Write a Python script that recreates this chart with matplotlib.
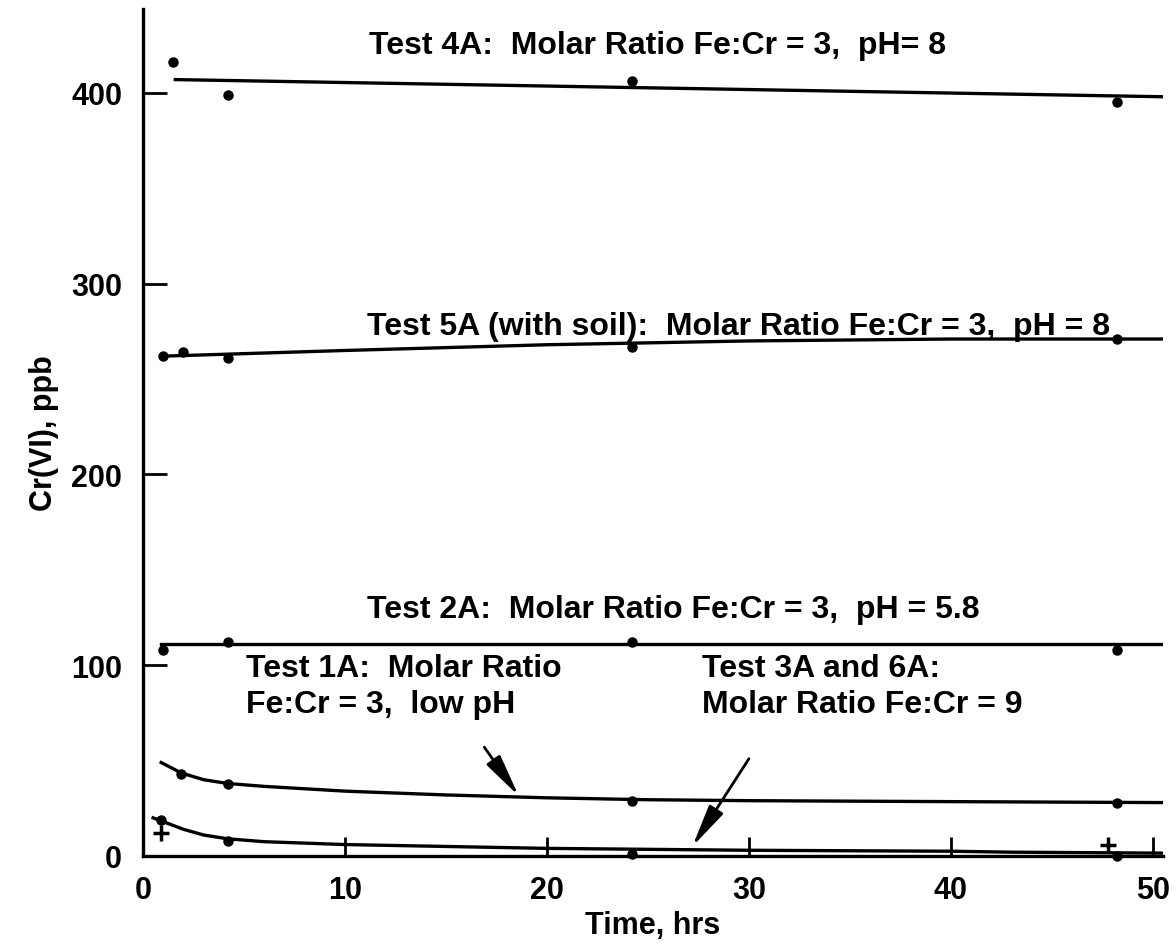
import matplotlib.pyplot as plt

plt.rcParams['font.family'] = ['Liberation Sans', 'DejaVu Sans']
plt.rcParams['font.weight'] = 'bold'
plt.rcParams['axes.labelweight'] = 'bold'

# measured points
test4a_x = [1.5, 4.2, 24.2, 48.2]
test4a_y = [416, 399, 406, 395]
test5a_x = [1.0, 2.0, 4.2, 24.2, 48.2]
test5a_y = [262, 264, 261, 267, 271]
test2a_x = [1.0, 4.2, 24.2, 48.2]
test2a_y = [108, 112, 112, 108]
test1a_x = [1.9, 4.2, 24.2, 48.2]
test1a_y = [43, 38, 29, 28]
test3a_x = [0.9, 4.2, 24.2, 48.2]
test3a_y = [19, 8, 1, 0]
test6a_x = [0.9, 47.8]
test6a_y = [12, 6]

# fitted curves
fit4a_x = [1.6, 50.5]
fit4a_y = [407, 398]
fit5a_x = [0.9, 4.0, 10, 20, 30, 40, 50.5]
fit5a_y = [262, 263, 265, 268, 270, 271, 271]
fit2a_x = [0.9, 50.5]
fit2a_y = [111, 111]
fit1a_x = [0.9, 1.9, 3.0, 4.2, 6, 10, 15, 20, 25, 30, 40, 50.5]
fit1a_y = [49, 43.5, 40, 38, 36.5, 34, 32, 30.5, 29.5, 29, 28.5, 28]
fit3a_x = [0.5, 1.0, 2.0, 3.0, 4.2, 6, 10, 15, 20, 25, 30, 40, 43, 50.5]
fit3a_y = [20, 18, 14, 11, 9, 7.5, 6, 5, 4, 3.5, 3, 2.5, 2, 1.5]

fig = plt.figure(figsize=(11.76, 9.53), dpi=100)
ax = fig.add_axes([143/1176, 96/953, (1163-143)/1176, (857-10)/953])

lw = 2.4
ax.plot(fit4a_x, fit4a_y, color='black', lw=lw)
ax.plot(fit5a_x, fit5a_y, color='black', lw=lw)
ax.plot(fit2a_x, fit2a_y, color='black', lw=lw)
ax.plot(fit1a_x, fit1a_y, color='black', lw=lw)
ax.plot(fit3a_x, fit3a_y, color='black', lw=lw)

for xs, ys in [(test4a_x, test4a_y), (test5a_x, test5a_y), (test2a_x, test2a_y),
               (test1a_x, test1a_y), (test3a_x, test3a_y)]:
    ax.plot(xs, ys, 'o', color='black', markersize=6.5, clip_on=False)
ax.plot(test6a_x, test6a_y, '+', color='black', markersize=12, mew=2.5, clip_on=False)

fs = 23
ax.text(11.2, 425, 'Test 4A:  Molar Ratio Fe:Cr = 3,  pH= 8', fontsize=fs, va='center')
ax.text(11.1, 278, 'Test 5A (with soil):  Molar Ratio Fe:Cr = 3,  pH = 8', fontsize=fs, va='center')
ax.text(11.1, 129.5, 'Test 2A:  Molar Ratio Fe:Cr = 3,  pH = 5.8', fontsize=fs, va='center')
ax.text(5.1, 89, 'Test 1A:  Molar Ratio\nFe:Cr = 3,  low pH', fontsize=fs, va='center',
        linespacing=1.25)
ax.text(27.7, 89, 'Test 3A and 6A:\nMolar Ratio Fe:Cr = 9', fontsize=fs, va='center',
        linespacing=1.25)

arrow = dict(arrowstyle='-|>,head_length=1.3,head_width=0.25', mutation_scale=20,
             color='black', lw=2, shrinkA=0, shrinkB=0)
ax.annotate('', xy=(18.6, 31.5), xytext=(16.9, 57), arrowprops=arrow)
ax.annotate('', xy=(27.2, 5), xytext=(30.0, 51), arrowprops=arrow)

ax.set_xlim(0, 50.5)
ax.set_ylim(0, 444)
ax.set_xticks([0, 10, 20, 30, 40, 50])
ax.set_yticks([0, 100, 200, 300, 400])
ax.spines['top'].set_visible(False)
ax.spines['right'].set_visible(False)
ax.spines['left'].set_linewidth(2.4)
ax.spines['bottom'].set_linewidth(2.4)
ax.tick_params(axis='y', direction='in', length=17, width=2, labelsize=22, pad=15)
ax.tick_params(axis='x', direction='in', length=14, width=2, labelsize=22, pad=14)

ax.set_xlabel('Time, hrs', fontsize=22, labelpad=3)
ax.set_ylabel('Cr(VI), ppb', fontsize=22, labelpad=9)

fig.savefig('out.png', dpi=100)
